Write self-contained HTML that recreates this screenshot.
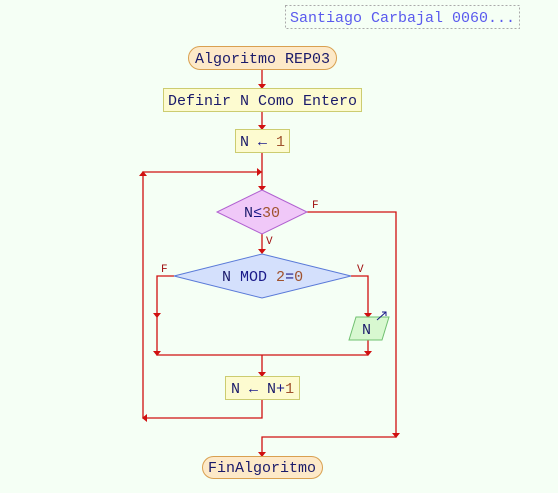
<!DOCTYPE html>
<html><head><meta charset="utf-8"><style>
html,body{margin:0;padding:0;background:#f5fff5;}
svg{display:block;}
text{font-family:"Liberation Mono","DejaVu Sans Mono",monospace;font-size:15px;fill:#1a1a6a;}
.n{fill:#a0522d;}
.k{fill:#1a1a8a;}
.l{fill:none;stroke:#d01010;stroke-width:1.3;}
.a{fill:#d01010;}
.lbl{font-size:11px;fill:#a01010;}
</style></head><body>
<svg width="558" height="493" viewBox="0 0 558 493">
<rect x="285.5" y="5.5" width="234" height="23" fill="none" stroke="#aaa" stroke-dasharray="2,2"/>
<text x="290" y="22" style="fill:#5a5aee;">Santiago Carbajal 0060...</text>

<path class="l" d="M262 69V88 M262 111V129 M262 152V190 M262 234V253"/>
<path class="l" d="M307 212H396V437H262V456"/>
<path class="l" d="M174 276H157V355H368 M351 276H368V317 M368 340V355 M262 355V376 M262 399V418H143V172H262"/>
<path class="a" d="M258 84h8l-4 5z M258 125h8l-4 5z M258 186h8l-4 5z M258 249h8l-4 5z M258 372h8l-4 5z M258 452h8l-4 5z M364 313h8l-4 5z M153 313h8l-4 5z M364 351h8l-4 5z M153 351h8l-4 5z M392 433h8l-4 5z M257 168v8l5-4z M139 176h8l-4-5z M147 414v8l-5-4z"/>
<text class="lbl" x="312" y="208">F</text>
<text class="lbl" x="266" y="244">V</text>
<text class="lbl" x="161" y="272">F</text>
<text class="lbl" x="357" y="272">V</text>

<rect x="188.5" y="46.5" width="148" height="23" rx="11.5" fill="#fde9c8" stroke="#d9a050"/>
<text x="195" y="63">Algoritmo REP03</text>
<rect x="163.5" y="88.5" width="198" height="23" fill="#fdfbd0" stroke="#cccc70"/>
<text x="168" y="105">Definir N Como Entero</text>
<rect x="235.5" y="129.5" width="54" height="23" fill="#fdfbd0" stroke="#cccc70"/>
<text x="240" y="146">N <tspan class="k">←</tspan> <tspan class="n">1</tspan></text>

<polygon points="262,190 307,212 262,234 217,212" fill="#f0c8f8" stroke="#b060d0"/>
<text x="244" y="217">N<tspan class="k">≤</tspan><tspan class="n">30</tspan></text>

<polygon points="262,254 351,276 262,298 174,276" fill="#d4e0fc" stroke="#5a7ad8"/>
<text x="222" y="281">N <tspan class="k">MOD</tspan> <tspan class="n">2</tspan><tspan class="k">=</tspan><tspan class="n">0</tspan></text>

<polygon points="356,317 389,317 382,340 349,340" fill="#d8f8d0" stroke="#70c070"/>
<text x="362" y="334">N</text>
<path d="M377 320L386 312 M382 312h4v4" stroke="#1a1a8a" fill="none" stroke-width="1"/>

<rect x="225.5" y="376.5" width="74" height="23" fill="#fdfbd0" stroke="#cccc70"/>
<text x="231" y="393">N <tspan class="k">←</tspan> N<tspan class="k">+</tspan><tspan class="n">1</tspan></text>

<rect x="202.5" y="456.5" width="120" height="22" rx="11" fill="#fde9c8" stroke="#d9a050"/>
<text x="208" y="472">FinAlgoritmo</text>
</svg>
</body></html>
